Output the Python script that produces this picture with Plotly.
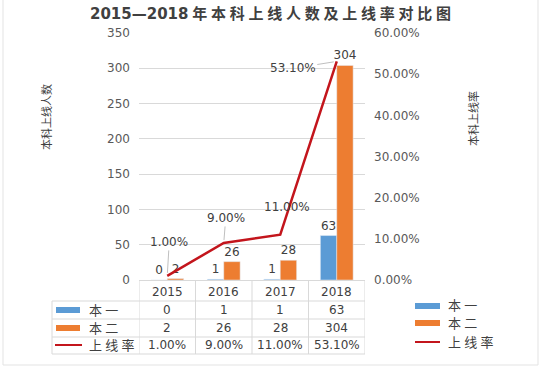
import plotly.graph_objects as go

# ---------------- data ----------------
years = ["2015", "2016", "2017", "2018"]
ben1 = [0, 1, 1, 63]          # 本一
ben2 = [2, 26, 28, 304]       # 本二
rate = [0.01, 0.09, 0.11, 0.531]  # 上线率
series_names = ["本一", "本二", "上线率"]
title_text = "2015—2018年本科上线人数及上线率对比图"
left_title = "本科上线人数"
right_title = "本科上线率"

# ---------------- style ----------------
W, H = 541, 368
PL, PR, PT, PB = 139, 365, 33, 280   # plot area in pixels
BLUE, ORANGE, RED = "#5B9BD5", "#ED7D31", "#C3151C"
GRID = "#D9D9D9"
TXT = "#404040"
AX = "#595959"
FONT = "DejaVu Sans, Noto Sans CJK SC, sans-serif"


def px(x):
    return (x - PL) / (PR - PL)


def py(y):
    return (PB - y) / (PB - PT)


def spaced(s, sp="\u2005"):
    out = ""
    for i, ch in enumerate(s):
        out += ch
        if i < len(s) - 1 and (ord(ch) > 0x2E80 or ord(s[i + 1]) > 0x2E80):
            out += sp
    return out


idx = list(range(len(years)))

fig = go.Figure()
fig.add_trace(go.Bar(x=years, y=ben1, name=series_names[0], marker_color=BLUE,
                     text=[str(v) for v in ben1], textposition="outside",
                     constraintext="none",
                     textfont=dict(size=12, color=TXT), cliponaxis=False,
                     showlegend=False))
fig.add_trace(go.Bar(x=years, y=ben2, name=series_names[1], marker_color=ORANGE,
                     text=[str(v) for v in ben2], textposition="outside",
                     constraintext="none",
                     textfont=dict(size=12, color=TXT), cliponaxis=False,
                     showlegend=False))
fig.add_trace(go.Scatter(x=years, y=rate, name=series_names[2], yaxis="y2",
                         mode="lines", line=dict(color=RED, width=2.5),
                         showlegend=False))

annotations = []
shapes = []

# line data labels (offsets in px, show leader)
label_offsets = [(2, -34, True), (2, -25, True), (7, -28, False), (-44, 7, True)]
for i, r, (ax, ay, arrow) in zip(idx, rate, label_offsets):
    a = dict(x=i, y=r, xref="x", yref="y2", text=f"{r:.2%}",
             font=dict(size=12, color=TXT), showarrow=arrow,
             xanchor="center", yanchor="middle")
    if arrow:
        a.update(ax=ax, ay=ay, arrowhead=0, arrowwidth=1, arrowcolor="#BFBFBF",
                 standoff=3)
    else:
        a.update(xshift=ax, yshift=-ay)
    annotations.append(a)

# data table: header years
for i, yr in zip(idx, years):
    annotations.append(dict(x=i, y=py(292), xref="x", yref="paper", text=yr,
                            showarrow=False, xanchor="center", yanchor="middle",
                            font=dict(size=12, color=TXT)))
# table rows
rows = [
    ([str(v) for v in ben1], 310),
    ([str(v) for v in ben2], 328),
    ([f"{r:.2%}" for r in rate], 345),
]
for vals, ypix in rows:
    for i, v in zip(idx, vals):
        annotations.append(dict(x=i, y=py(ypix), xref="x", yref="paper", text=v,
                                showarrow=False, xanchor="center", yanchor="middle",
                                font=dict(size=12, color=TXT)))

# table legend keys + labels
key_rows = [(BLUE, 310, "bar"), (ORANGE, 328, "bar"), (RED, 345, "line")]
for (col, ypix, kind), nm in zip(key_rows, series_names):
    if kind == "bar":
        shapes.append(dict(type="rect", xref="paper", yref="paper",
                           x0=px(56), x1=px(80), y0=py(ypix - 3), y1=py(ypix + 3),
                           fillcolor=col, line=dict(width=0)))
    else:
        shapes.append(dict(type="line", xref="paper", yref="paper",
                           x0=px(55), x1=px(82), y0=py(ypix), y1=py(ypix),
                           line=dict(color=col, width=2)))
    annotations.append(dict(x=px(87), y=py(ypix), xref="paper", yref="paper",
                            text=spaced(nm), xanchor="left", yanchor="middle",
                            showarrow=False, font=dict(size=13, color=TXT)))

# table grid
for ypix in [301, 319, 337, 354]:
    shapes.append(dict(type="line", xref="paper", yref="paper",
                       x0=px(52), x1=1, y0=py(ypix), y1=py(ypix),
                       line=dict(color=GRID, width=1)))
for i in range(len(years) + 1):
    shapes.append(dict(type="line", xref="x", yref="paper",
                       x0=i - 0.5, x1=i - 0.5, y0=0, y1=py(354),
                       line=dict(color=GRID, width=1)))
shapes.append(dict(type="line", xref="paper", yref="paper",
                   x0=px(52), x1=px(52), y0=py(301), y1=py(354),
                   line=dict(color=GRID, width=1)))

# right legend
leg_rows = [(BLUE, 306, "bar"), (ORANGE, 323, "bar"), (RED, 342, "line")]
for (col, ypix, kind), nm in zip(leg_rows, series_names):
    if kind == "bar":
        shapes.append(dict(type="rect", xref="paper", yref="paper",
                           x0=px(415), x1=px(440), y0=py(ypix - 3), y1=py(ypix + 3),
                           fillcolor=col, line=dict(width=0)))
    else:
        shapes.append(dict(type="line", xref="paper", yref="paper",
                           x0=px(415), x1=px(440), y0=py(ypix), y1=py(ypix),
                           line=dict(color=col, width=2)))
    annotations.append(dict(x=px(446), y=py(ypix), xref="paper", yref="paper",
                            text=spaced(nm), xanchor="left", yanchor="middle",
                            showarrow=False, font=dict(size=13, color=TXT)))

# axis titles
annotations.append(dict(x=px(47), y=py(117), xref="paper", yref="paper",
                        text=left_title, textangle=-90, showarrow=False,
                        xanchor="center", yanchor="middle",
                        font=dict(size=11, color=TXT)))
annotations.append(dict(x=px(474), y=py(119), xref="paper", yref="paper",
                        text=right_title, textangle=-90, showarrow=False,
                        xanchor="center", yanchor="middle",
                        font=dict(size=11, color=TXT)))

# faint outer frame
shapes.append(dict(type="rect", xref="paper", yref="paper",
                   x0=px(3), x1=px(538), y0=py(365), y1=py(-5),
                   line=dict(color="#E3E3E3", width=1), layer="below"))

fig.update_layout(
    width=W, height=H,
    margin=dict(l=PL, r=W - PR, t=PT, b=H - PB, pad=0),
    paper_bgcolor="white", plot_bgcolor="white",
    font=dict(family=FONT, size=12, color=AX),
    title=dict(text=spaced(title_text), x=0.5, xref="container", xanchor="center",
               y=1 - 14 / H, yref="container", yanchor="middle",
               font=dict(size=15, color=TXT, weight="bold")),
    barmode="group", bargap=0.42, bargroupgap=0,
    hovermode=False,
    xaxis=dict(type="category", range=[-0.5, len(years) - 0.5],
               showticklabels=False, showgrid=False, ticks="",
               showline=True, linecolor=GRID, linewidth=1, zeroline=False),
    yaxis=dict(range=[0, 350], dtick=50, showgrid=True, gridcolor=GRID,
               zeroline=False, ticks="", ticklabelstandoff=8,
               tickfont=dict(size=12, color=AX)),
    yaxis2=dict(range=[0, 0.6], dtick=0.1, tickformat=".2%", overlaying="y",
                side="right", showgrid=False, zeroline=False, ticks="",
                ticklabelstandoff=8, tickfont=dict(size=12, color=AX)),
    annotations=annotations,
    shapes=shapes,
    showlegend=False,
)

fig.write_html("out.html", config={"displayModeBar": False},
               post_script="document.body.style.margin='0';document.body.style.overflow='hidden';")
